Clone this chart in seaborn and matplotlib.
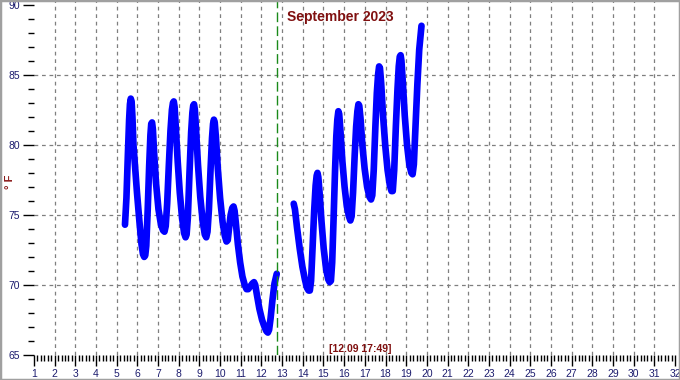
import matplotlib
matplotlib.use("Agg")
import matplotlib.pyplot as plt
from matplotlib.ticker import MultipleLocator
from matplotlib.patches import Rectangle
import pandas as pd
import seaborn as sns

# --- data (day of month, °F) ---
seg1_day = [5.40, 5.47, 5.54, 5.60, 5.64, 5.68, 5.72, 5.76, 5.81, 5.88, 5.98, 6.10, 6.20, 6.27,
            6.33, 6.38, 6.43, 6.50, 6.57, 6.63, 6.67, 6.71, 6.75, 6.81, 6.90, 7.02, 7.14, 7.24,
            7.31, 7.37, 7.44, 7.52, 7.60, 7.67, 7.72, 7.76, 7.80, 7.86, 7.95, 8.05, 8.16, 8.26,
            8.33, 8.38, 8.44, 8.52, 8.60, 8.66, 8.70, 8.74, 8.78, 8.84, 8.93, 9.04, 9.16, 9.26,
            9.33, 9.39, 9.46, 9.54, 9.61, 9.66, 9.70, 9.74, 9.80, 9.89, 10.00, 10.12, 10.23,
            10.31, 10.37, 10.43, 10.51, 10.59, 10.65, 10.70, 10.77, 10.86, 10.97, 11.08, 11.19,
            11.28, 11.36, 11.46, 11.56, 11.64, 11.70, 11.78, 11.90, 12.03, 12.15, 12.24, 12.31,
            12.37, 12.44, 12.53, 12.63, 12.74]
seg1_temp = [74.3, 76.2, 79.3, 81.8, 82.9, 83.3, 83.1, 82.0, 80.0, 78.6, 76.6, 74.5, 72.9, 72.2,
             72.0, 72.1, 72.8, 75.4, 78.5, 80.7, 81.5, 81.6, 81.1, 79.4, 77.3, 75.4, 74.3, 73.9,
             73.8, 74.2, 75.8, 78.5, 81.0, 82.5, 83.0, 83.1, 82.7, 81.2, 78.8, 76.6, 74.8, 73.7,
             73.4, 73.6, 74.8, 78.0, 80.9, 82.3, 82.8, 82.9, 82.5, 81.0, 78.6, 76.3, 74.5, 73.6,
             73.4, 73.8, 75.4, 78.3, 80.5, 81.5, 81.8, 81.6, 80.5, 78.3, 76.2, 74.5, 73.5,
             73.1, 73.2, 74.0, 75.0, 75.5, 75.6, 75.3, 74.3, 72.9, 71.6, 70.6, 70.0,
             69.7, 69.7, 69.9, 70.1, 70.2, 70.0, 69.3, 68.3, 67.5, 67.0, 66.7, 66.6,
             66.8, 67.6, 68.9, 70.1, 70.8]

seg2_day = [13.56, 13.62, 13.72, 13.85, 13.98, 14.10, 14.20, 14.28, 14.34, 14.40, 14.47, 14.55,
            14.62, 14.67, 14.71, 14.75, 14.81, 14.90, 15.01, 15.13, 15.23, 15.30, 15.36, 15.42,
            15.49, 15.56, 15.62, 15.67, 15.72, 15.76, 15.82, 15.91, 16.02, 16.13, 16.23, 16.30,
            16.36, 16.43, 16.51, 16.58, 16.64, 16.69, 16.73, 16.79, 16.88, 16.99, 17.11, 17.22,
            17.30, 17.36, 17.43, 17.51, 17.58, 17.64, 17.69, 17.73, 17.79, 17.88, 17.99, 18.10,
            18.21, 18.29, 18.35, 18.42, 18.50, 18.58, 18.64, 18.69, 18.73, 18.77, 18.84, 18.93,
            19.04, 19.15, 19.25, 19.31, 19.37, 19.45, 19.54, 19.63, 19.74]
seg2_temp = [75.8, 75.4, 74.1, 72.6, 71.3, 70.4, 69.8, 69.6, 69.6, 70.3, 72.6, 75.3,
             77.1, 77.8, 78.0, 77.7, 76.6, 74.6, 72.6, 71.1, 70.4, 70.2, 70.3, 71.6,
             74.8, 78.2, 80.6, 81.8, 82.4, 82.2, 81.0, 78.9, 77.0, 75.6, 74.9, 74.6,
             74.9, 76.6, 79.3, 81.3, 82.4, 82.9, 82.8, 81.9, 80.0, 78.3, 77.0, 76.3,
             76.1, 76.4, 78.2, 81.3, 83.7, 85.0, 85.6, 85.5, 84.4, 82.1, 79.9, 78.2,
             77.1, 76.7, 76.7, 78.2, 81.3, 84.0, 85.6, 86.3, 86.4, 86.0, 84.4, 82.1,
             80.0, 78.6, 78.0, 77.9, 78.6, 81.3, 84.3, 86.8, 88.5]

x_ticks = list(range(1, 33))
y_ticks = [65, 70, 75, 80, 85, 90]
marker_day = 12 + 17.82 / 24
title_text = "September 2023"
stamp_text = "[12.09 17:49]"
unit_text = "° F"

df = pd.concat([
    pd.DataFrame({"day": seg1_day, "temp": seg1_temp, "seg": 1}),
    pd.DataFrame({"day": seg2_day, "temp": seg2_temp, "seg": 2}),
])

plt.rcParams["font.family"] = ["Liberation Sans", "DejaVu Sans"]
fig = plt.figure(figsize=(6.8, 3.8), dpi=100)
ax = fig.add_axes([34 / 680, 1 - 355 / 380, (675 - 34) / 680, 355 / 380 - 0.002])

sns.lineplot(data=df, x="day", y="temp", units="seg", estimator=None,
             color="#0000ff", linewidth=4.8, ax=ax, sort=False,
             solid_capstyle="round", solid_joinstyle="round")

ax.axvline(marker_day, color="#1a8a1a", linewidth=1.0, linestyle=(0, (7, 3)))

ax.set_xlim(1, 32)
ax.set_ylim(65, 90 + 4 / 14)
ax.set_xticks(x_ticks)
ax.set_yticks(y_ticks)
ax.xaxis.set_minor_locator(MultipleLocator(1 / 6))
ax.yaxis.set_minor_locator(MultipleLocator(1))
for s in ax.spines.values():
    s.set_visible(False)

lab_col = "#1c1c6e"
ax.tick_params(axis="both", which="major", length=8, width=1, color="black",
               labelsize=7.5, labelcolor=lab_col, direction="out", pad=2)
ax.tick_params(axis="both", which="minor", length=4, width=1, color="black", direction="out")

ax.grid(True, which="major", color="#7f7f7f", linestyle=(0, (3, 3)), linewidth=0.9)
xg = ax.xaxis.get_gridlines()
xg[0].set_visible(False)
xg[-1].set_visible(False)
yg = ax.yaxis.get_gridlines()
yg[0].set_visible(False)
yg[-1].set_visible(False)

ax.set_xlabel("")
ax.set_ylabel("")
fig.text(10 / 680, 1 - 182 / 380, unit_text, color="#8b1a1a", fontsize=8, fontweight="bold",
         rotation=90, ha="center", va="center")
fig.text(340 / 680, 1 - 17 / 380, title_text, color="#801010", fontsize=10, fontweight="bold",
         ha="center", va="center")
fig.text(360 / 680, 1 - 349 / 380, stamp_text, color="#801010", fontsize=7.5, fontweight="bold",
         ha="center", va="center")

fig.patches.append(Rectangle((0, 0), 1, 1, transform=fig.transFigure, fill=False,
                             edgecolor="#a0a0a0", linewidth=2.5))

fig.savefig("out.png", dpi=100, facecolor="white")
